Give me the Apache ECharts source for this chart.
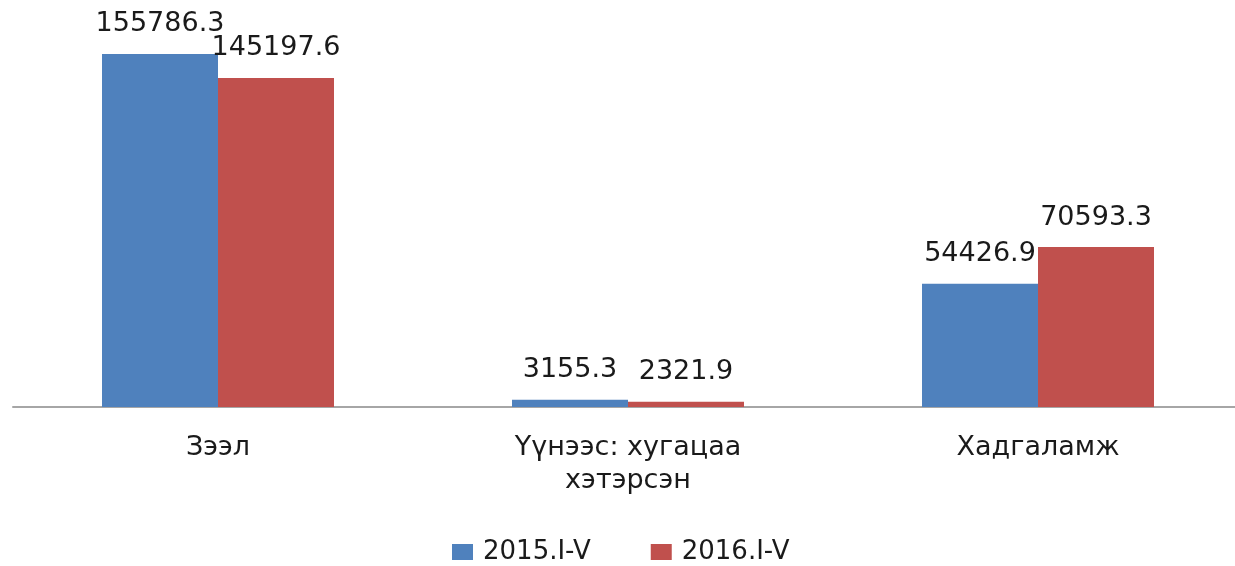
<!DOCTYPE html>
<html>
<head>
<meta charset="utf-8">
<script src="https://cdn.jsdelivr.net/npm/echarts@6/dist/echarts.min.js"></script>
<style>
html,body{margin:0;padding:0;background:#fff;}
#c{width:1235px;height:566px;}
</style>
</head>
<body>
<div id="c"></div>
<script>
const categories = ['Зээл', 'Үүнээс: хугацаа\nхэтэрсэн', 'Хадгаламж'];
const seriesNames = ['2015.I-V', '2016.I-V'];
const values2015 = [155786.3, 3155.3, 54426.9];
const values2016 = [145197.6, 2321.9, 70593.3];

const FONT = 'DejaVu Sans';
const TXT = '#1a1a1a';

const chart = echarts.init(document.getElementById('c'));
const labelCfg = {
  show: true,
  position: 'top',
  distance: 16,
  fontFamily: FONT,
  fontSize: 27,
  color: TXT,
  formatter: p => p.value.toFixed(1)
};
chart.setOption({
  animation: false,
  color: ['#4F81BD', '#C0504D'],
  grid: { left: 13, width: 1230, top: 44.4, bottom: 159, containLabel: false, outerBoundsMode: 'none' },
  legend: {
    top: 534,
    left: 447,
    itemWidth: 21,
    itemHeight: 16,
    itemGap: 60,
    icon: 'rect',
    textStyle: { fontFamily: FONT, fontSize: 26, color: TXT, padding: [0, 0, 0, 5] },
    data: seriesNames
  },
  xAxis: {
    type: 'category',
    data: categories,
    axisLine: { lineStyle: { color: '#a6a6a6', width: 2 } },
    axisTick: { show: false },
    axisLabel: { fontFamily: FONT, fontSize: 27, color: TXT, lineHeight: 33, margin: 24, interval: 0 }
  },
  yAxis: {
    type: 'value',
    min: 0,
    max: 160000,
    show: false,
    splitLine: { show: false }
  },
  series: [
    { name: seriesNames[0], type: 'bar', data: values2015, barWidth: 116, barGap: '0%', label: labelCfg },
    { name: seriesNames[1], type: 'bar', data: values2016, barWidth: 116, barGap: '0%', label: labelCfg }
  ]
});
</script>
</body>
</html>
